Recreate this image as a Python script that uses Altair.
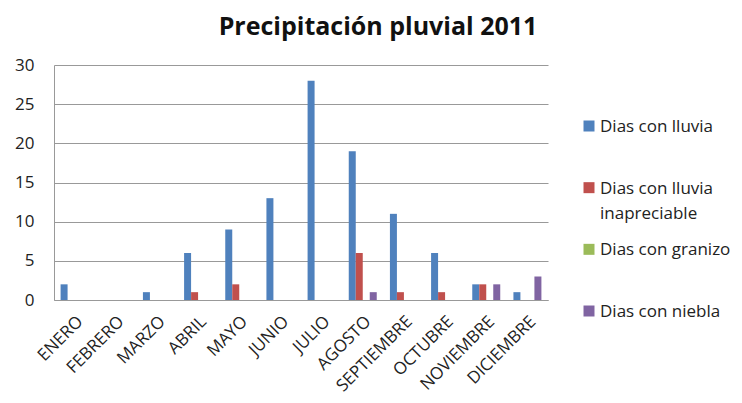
import altair as alt
import pandas as pd

months = ["ENERO", "FEBRERO", "MARZO", "ABRIL", "MAYO", "JUNIO", "JULIO",
          "AGOSTO", "SEPTIEMBRE", "OCTUBRE", "NOVIEMBRE", "DICIEMBRE"]
series = ["Dias con lluvia", "Dias con lluvia inapreciable",
          "Dias con granizo", "Dias con niebla"]
legend_labels = ["Dias con lluvia", "Dias con lluvia\ninapreciable",
                 "Dias con granizo", "Dias con niebla"]
lluvia = [2, 0, 1, 6, 9, 13, 28, 19, 11, 6, 2, 1]
inapreciable = [0, 0, 0, 1, 2, 0, 0, 6, 1, 1, 2, 0]
granizo = [0, 0, 0, 0, 0, 0, 0, 0, 0, 0, 0, 0]
niebla = [0, 0, 0, 0, 0, 0, 0, 1, 0, 0, 2, 3]
colors = ["#4F81BD", "#C0504D", "#9BBB59", "#8064A2"]

rows = []
for s, vals in zip(series, [lluvia, inapreciable, granizo, niebla]):
    for m, v in zip(months, vals):
        rows.append({"mes": m, "serie": s, "dias": v})
df = pd.DataFrame(rows)
legend_df = pd.DataFrame({"serie": series, "label": legend_labels})

FONT = "Open Sans"
color_scale = alt.Scale(domain=series, range=colors)

bars = alt.Chart(df).mark_bar().encode(
    x=alt.X("mes:N", sort=months, title=None,
            scale=alt.Scale(paddingInner=0.32, paddingOuter=0.16),
            axis=alt.Axis(labelAngle=-45, labelAlign="right", labelBaseline="top",
                          labelFontSize=17, labelColor="#222", labelPadding=13,
                          ticks=False, domainColor="#999", labelFont=FONT)),
    xOffset=alt.XOffset("serie:N", sort=series,
                        scale=alt.Scale(paddingInner=0, paddingOuter=0)),
    y=alt.Y("dias:Q", title=None,
            scale=alt.Scale(domain=[0, 30]),
            axis=alt.Axis(values=[0, 5, 10, 15, 20, 25, 30], labelFontSize=17,
                          labelColor="#222", labelPadding=20, ticks=False,
                          domainColor="#999", gridColor="#999", labelFont=FONT)),
    color=alt.Color("serie:N", sort=series, scale=color_scale, legend=None),
)

leg_y = alt.Y("serie:N", sort=series, axis=None,
              scale=alt.Scale(type="point", range=[61, 246], padding=0))

leg_sq = alt.Chart(legend_df).mark_square(size=121, opacity=1).encode(
    x=alt.value(535),
    y=leg_y,
    color=alt.Color("serie:N", sort=series, scale=color_scale, legend=None),
)

leg_txt = alt.Chart(legend_df).mark_text(
    align="left", baseline="alphabetic", dy=6, lineBreak="\n", lineHeight=25,
    fontSize=17, font=FONT, color="#222",
).encode(
    x=alt.value(546),
    y=leg_y,
    text="label:N",
)

chart = alt.layer(bars, leg_sq, leg_txt).resolve_scale(
    y="independent"
).properties(
    width=494, height=235,
    title=alt.TitleParams("Precipitación pluvial 2011", fontSize=25,
                          fontWeight="bold", font=FONT, color="#111",
                          anchor="middle", dx=77, offset=16),
    padding={"left": 46, "top": 57, "right": 186, "bottom": 101},
    autosize=alt.AutoSizeParams(type="none"),
).configure_view(stroke=None)

chart.save("out.html", embed_options={"renderer": "svg", "actions": False})
